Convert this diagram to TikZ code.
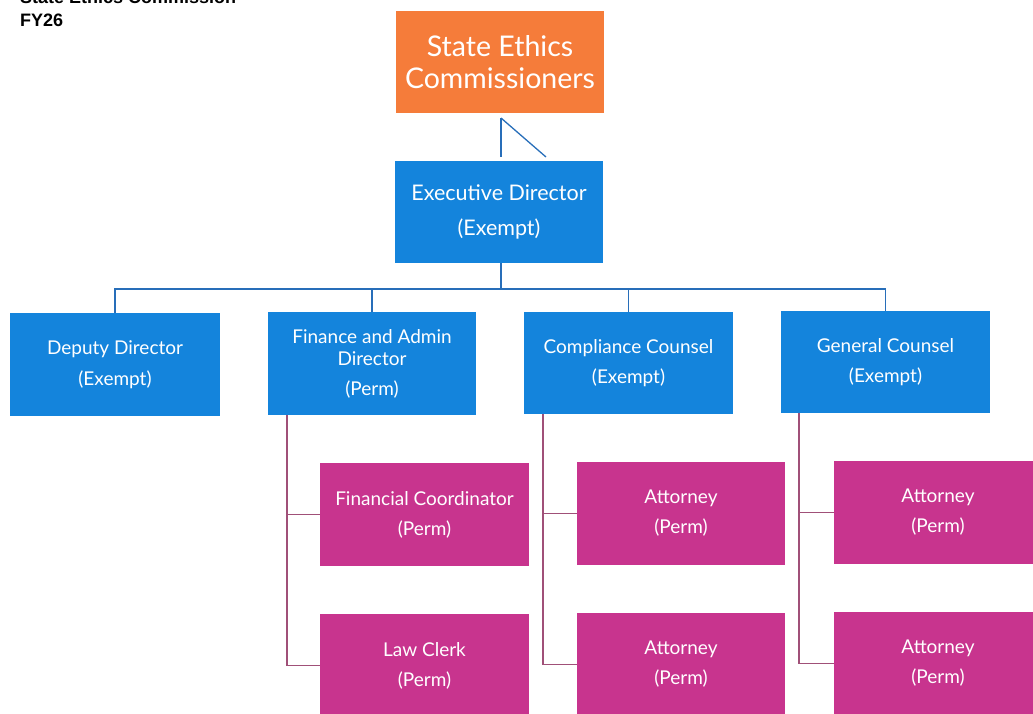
\documentclass[tikz,border=0pt]{standalone}
\usepackage{fontspec}
\setmainfont{Lato}
\newfontfamily\headfont{Liberation Sans}
\definecolor{orgbox}{RGB}{245,124,58}
\definecolor{bluebox}{RGB}{20,132,220}
\definecolor{magbox}{RGB}{200,52,142}
\definecolor{blueline}{RGB}{40,110,185}
\definecolor{magline}{RGB}{160,80,120}
\tikzset{
  box/.style={rectangle, inner sep=0pt, text=white, align=center, font=\fontsize{19}{22}\selectfont},
  bluenode/.style={box, fill=bluebox},
  magnode/.style={box, fill=magbox},
  bline/.style={draw=blueline, line width=1.6pt},
  mline/.style={draw=magline, line width=1.4pt},
}
\begin{document}
\begin{tikzpicture}[x=1pt,y=-1pt]
\useasboundingbox (0,0) rectangle (1033,713);
% heading
\node[anchor=south west, inner sep=0pt, font=\headfont\bfseries\fontsize{18}{20}\selectfont] (head1) at (20,4) {State Ethics Commission};
\node[anchor=south west, inner sep=0pt, font=\headfont\bfseries\fontsize{18}{20}\selectfont] (head2) at (20,27) {FY26};
% top
\node[box, fill=orgbox, minimum width=208pt, minimum height=102pt, font=\fontsize{28.5}{32}\selectfont] (com) at (500,62) {State Ethics\\Commissioners};
\node[bluenode, minimum width=208pt, minimum height=102pt, font=\fontsize{21.5}{35}\selectfont] (ed) at (499,212) {Executive Director\\(Exempt)};
% level 2
\node[bluenode, minimum width=210pt, minimum height=103pt] (dd) at (115,364.5) {Deputy Director\\[9pt](Exempt)};
\node[bluenode, minimum width=208pt, minimum height=103pt] (fa) at (372,363.5) {Finance and Admin\\Director\\[8pt](Perm)};
\node[bluenode, minimum width=209pt, minimum height=102pt] (cc) at (628.5,363) {Compliance Counsel\\[8pt](Exempt)};
\node[bluenode, minimum width=209pt, minimum height=102pt] (gc) at (885.5,362) {General Counsel\\[8pt](Exempt)};
% level 3
\node[magnode, minimum width=209pt, minimum height=103pt] (fc) at (424.5,514.5) {Financial Coordinator\\[8pt](Perm)};
\node[magnode, minimum width=209pt, minimum height=103pt] (lc) at (424.5,665.5) {Law Clerk\\[8pt](Perm)};
\node[magnode, minimum width=208pt, minimum height=103pt] (a1) at (681,513.5) {Attorney\\[8pt](Perm)};
\node[magnode, minimum width=208pt, minimum height=103pt] (a2) at (681,664.5) {Attorney\\[8pt](Perm)};
\node[magnode, minimum width=208pt, minimum height=103pt] (a3) at (938,512.5) {Attorney\\[8pt](Perm)};
\node[magnode, minimum width=208pt, minimum height=103pt] (a4) at (938,663.5) {Attorney\\[8pt](Perm)};
% top connectors
\coordinate (t1) at (501,118);
\coordinate (t2) at (546,157);
\draw[bline, line width=1.3pt] (t1) -- (501,157);
\draw[bline, line width=1.3pt] (t1) -- (t2);
\coordinate (bus) at (501,289);
\draw[bline] (ed.south -| bus) -- (bus);
\draw[bline] (dd.north) |- (bus);
\draw[bline] (gc.north) |- (bus);
\draw[bline] (fa.north) -- (fa.north |- bus);
\draw[bline] (cc.north) -- (cc.north |- bus);
% magenta connectors
\draw[mline] ([xshift=-85pt]fa.south) |- (lc.west);
\draw[mline] ([xshift=-85pt]fa.south |- fc.west) -- (fc.west);
\draw[mline] ([xshift=-85.5pt]cc.south) |- (a2.west);
\draw[mline] ([xshift=-85.5pt]cc.south |- a1.west) -- (a1.west);
\draw[mline] ([xshift=-86.5pt]gc.south) |- (a4.west);
\draw[mline] ([xshift=-86.5pt]gc.south |- a3.west) -- (a3.west);
\end{tikzpicture}
\end{document}
